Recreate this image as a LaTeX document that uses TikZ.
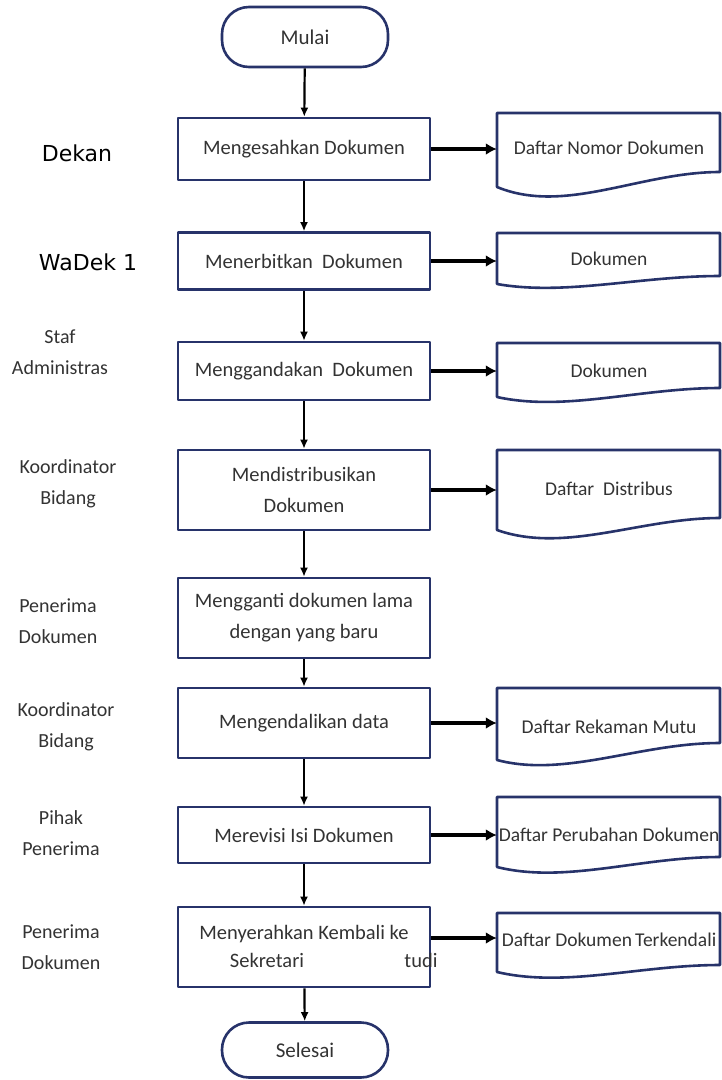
\documentclass[tikz,border=0pt]{standalone}
\usepackage{fontspec}
\setmainfont{Carlito}
\newfontfamily\rolefont{DejaVu Sans}
\usetikzlibrary{arrows.meta, calc}
\definecolor{boxblue}{HTML}{27336A}
\definecolor{inkgray}{HTML}{333333}

\begin{document}
\begin{tikzpicture}[x=1pt, y=-1pt, >=Latex, line join=round,
	proc/.style={draw=boxblue, line width=2.6pt, rectangle, minimum width=252pt,
		align=center, text=inkgray, inner sep=2pt,
		font=\fontsize{20.5}{31}\selectfont},
	term/.style={proc, minimum width=166pt, rounded corners=27pt,
		font=\fontsize{21}{25}\selectfont},
	boxtext/.style={text=inkgray, inner sep=0pt, font=\fontsize{20.5}{25}\selectfont},
	doctext/.style={rectangle, minimum width=224pt, inner sep=0pt, text=inkgray,
		font=\fontsize{19.5}{24}\selectfont},
	docline/.style={draw=boxblue, line width=2.6pt},
	role/.style={align=center, text=inkgray, font=\fontsize{20}{31}\selectfont},
	bigrole/.style={font=\rolefont\fontsize{22}{26}\selectfont},
	flow/.style={-{Latex[length=9pt, width=8pt]}, line width=2.2pt},
	output/.style={-{Latex[length=11pt, width=12pt]}, line width=4.5pt}]

\useasboundingbox (0,0) rectangle (722,1080);

%========================
% Main column
%========================
\node[term, minimum height=60pt] (start) at (305,37) {Mulai};
\node[proc, minimum height=62pt] (b1) at (304,149) {Mengesahkan Dokumen};
\node[proc, minimum height=57pt] (b2) at (304,261) {Menerbitkan\ \ Dokumen};
\node[proc, minimum height=58pt] (b3) at (304,371) {Menggandakan\ \ Dokumen};
\node[proc, minimum height=80pt] (b4) at (304,490) {Mendistribusikan\\Dokumen};
\node[proc, minimum height=80pt] (b5) at (304,618) {Mengganti dokumen lama\\dengan yang baru};
\node[proc, minimum height=70pt] (b6) at (304,723) {Mengendalikan data};
\node[proc, minimum height=56pt] (b7) at (304,835) {Merevisi Isi Dokumen};
\node[proc, minimum height=80pt] (b8) at (304,947) {};
\node[term, minimum height=55pt] (stop) at (305,1050) {Selesai};

% text of the last box (partly hidden in the source)
\node[boxtext] (b8top) at (304,934) {Menyerahkan Kembali ke};
\node[boxtext] (b8mid) at (267,960) {Sekretari};
\node[boxtext] (b8end) at (421,960) {tudi};

% vertical flow
\draw[flow] (start) -- (b1);
\draw[flow] (b1) -- (b2);
\draw[flow] (b2) -- (b3);
\draw[flow] (b3) -- (b4);
\draw[flow] (b4) -- (b5);
\draw[flow] (b5) -- (b6);
\draw[flow] (b6) -- (b7);
\draw[flow] (b7) -- (b8);
\draw[flow] (b8) -- (stop);

%========================
% Right: documents
%========================
\node[doctext] (d1) at (609,148) {Daftar Nomor Dokumen};
\node[doctext] (d2) at (609,259) {Dokumen};
\node[doctext] (d3) at (609,371) {Dokumen};
\node[doctext] (d4) at (609,489) {Daftar\ \ Distribus};
\node[doctext] (d6) at (609,727) {Daftar Rekaman Mutu};
\node[doctext] (d7) at (609,835) {Daftar Perubahan Dokumen};
\node[doctext] (d8) at (609,940) {Daftar Dokumen\,Terkendali};

% outlines: top / left bottom / dip of the wave / right bottom
\foreach \top/\lb/\dip/\rb in {113/187/215/172, 233/284/296/276, 343/397/412/388,
	450/530/554/518, 688/760/778/743, 797/867/884/857, 913/972/988/965}
	\draw[docline] (497,\lb) -- (497,\top) -- (720,\top) -- (720,\rb)
		.. controls (640,\rb) and (565,\dip) .. (497,\lb) -- cycle;

% outputs
\draw[output] (b1.east) -- (b1.east -| d1.west);
\draw[output] (b2.east) -- (b2.east -| d2.west);
\draw[output] (b3.east) -- (b3.east -| d3.west);
\draw[output] (b4.east) -- (b4.east -| d4.west);
\draw[output] (b6.east) -- (b6.east -| d6.west);
\draw[output] (b7.east) -- (b7.east -| d7.west);
\draw[output] ([yshift=9pt]b8.east) -- ([yshift=9pt]b8.east -| d8.west);

%========================
% Left: who does it
%========================
\node[bigrole] (r1) at (77,153) {Dekan};
\node[bigrole] (r2) at (88,262) {WaDek 1};
\node[role] (r3) at (60,352) {Staf\\Administras};
\node[role] (r4) at (68,484) {Koordinator\\Bidang};
\node[role] (r5) at (58,621) {Penerima\\Dokumen};
\node[role] (r6) at (66,727) {Koordinator\\Bidang};
\node[role] (r7) at (61,833) {Pihak\\Penerima};
\node[role] (r8) at (61,947) {Penerima\\Dokumen};

\end{tikzpicture}
\end{document}
